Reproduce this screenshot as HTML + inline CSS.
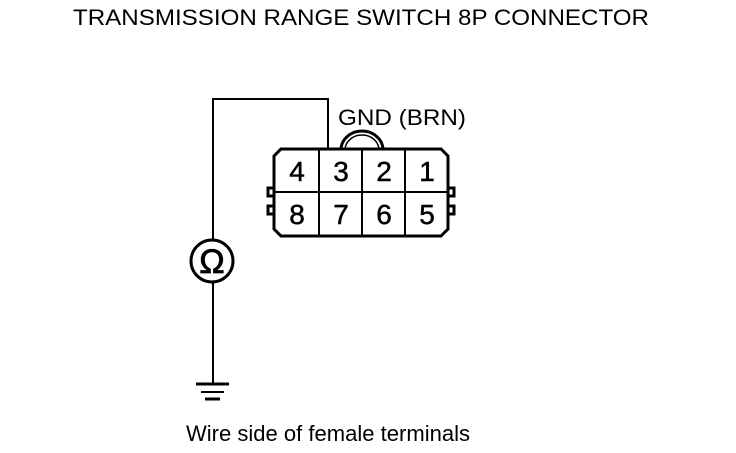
<!DOCTYPE html><html><head><style>body{margin:0;background:#fff}</style></head><body>
<svg width="736" height="448" xmlns="http://www.w3.org/2000/svg" font-family="Liberation Sans, sans-serif">
<text x="361" y="25" font-size="22" text-anchor="middle" textLength="576" lengthAdjust="spacingAndGlyphs">TRANSMISSION RANGE SWITCH 8P CONNECTOR</text>
<text x="402" y="125" font-size="22" text-anchor="middle" textLength="128" lengthAdjust="spacingAndGlyphs">GND (BRN)</text>
<text x="328" y="441" font-size="22" text-anchor="middle" textLength="284" lengthAdjust="spacingAndGlyphs">Wire side of female terminals</text>
<g fill="none" stroke="#000" stroke-width="2">
<polyline points="213,240 213,99 328,99 328,150"/>
<path d="M341,150 A21,19 0 0 1 383,150" stroke-width="3"/>
<path d="M345,150 A17,15 0 0 1 379,150" stroke-width="1.5"/>
<path d="M281,149 H441 L448,156 V229 L441,236 H281 L274,229 V156 Z" stroke-width="3"/>
<line x1="274" y1="192" x2="448" y2="192"/>
<line x1="319" y1="149" x2="319" y2="236"/>
<line x1="362" y1="149" x2="362" y2="236"/>
<line x1="405" y1="149" x2="405" y2="236"/>
<rect x="268" y="188" width="6" height="8" stroke-width="3"/>
<rect x="268" y="206" width="6" height="8" stroke-width="3"/>
<rect x="448" y="188" width="6" height="8" stroke-width="3"/>
<rect x="448" y="206" width="6" height="8" stroke-width="3"/>
<circle cx="212" cy="261" r="21" stroke-width="3"/>
<line x1="213" y1="282" x2="213" y2="384"/>
<line x1="196" y1="384" x2="229" y2="384" stroke-width="3"/>
<line x1="201" y1="392" x2="224" y2="392" stroke-width="2"/>
<line x1="205" y1="399" x2="220" y2="399" stroke-width="3"/>
</g>
<text x="212" y="273" font-size="34" text-anchor="middle" stroke="#000" stroke-width="0.8">Ω</text>
<g font-size="28" text-anchor="middle" stroke="#000" stroke-width="0.5">
<text x="297" y="181">4</text><text x="341" y="181">3</text><text x="384" y="181">2</text><text x="427" y="181">1</text>
<text x="297" y="224">8</text><text x="341" y="224">7</text><text x="384" y="224">6</text><text x="427" y="224">5</text>
</g>
</svg>
</body></html>
